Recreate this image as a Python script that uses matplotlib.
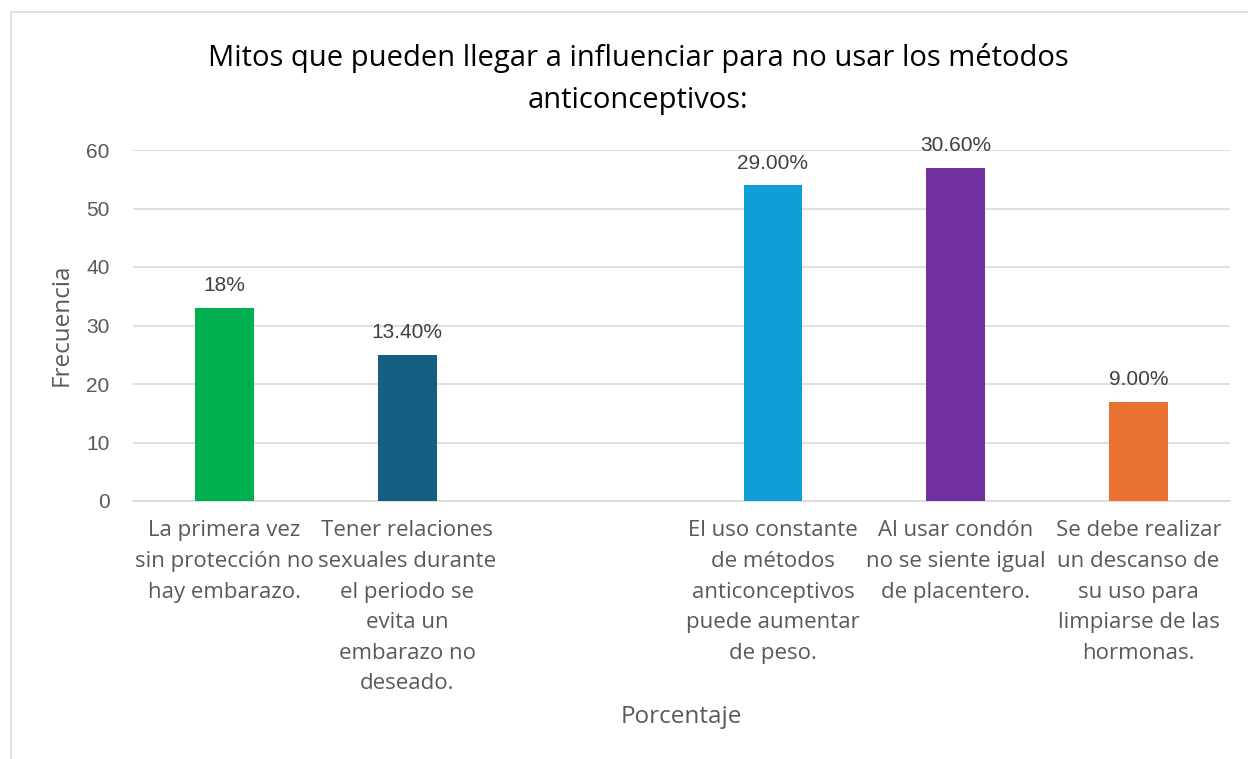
import matplotlib.pyplot as plt
from matplotlib.patches import Rectangle

plt.rcParams['font.family'] = ['Open Sans', 'DejaVu Sans']
num_font = ['Liberation Sans', 'DejaVu Sans']

# datos
categorias = [
    "La primera vez\nsin protección no\nhay embarazo.",
    "Tener relaciones\nsexuales durante\nel periodo se\nevita un\nembarazo no\ndeseado.",
    "",
    "El uso constante\nde métodos\nanticonceptivos\npuede aumentar\nde peso.",
    "Al usar condón\nno se siente igual\nde placentero.",
    "Se debe realizar\nun descanso de\nsu uso para\nlimpiarse de las\nhormonas.",
]
frecuencia = [33, 25, None, 54, 57, 17]
etiquetas = ["18%", "13.40%", "", "29.00%", "30.60%", "9.00%"]
colores = ["#00B050", "#156082", "#FFFFFF", "#0F9ED5", "#7030A0", "#E97132"]

fig = plt.figure(figsize=(12.48, 7.59), dpi=100)
ax = fig.add_axes([133/1248, 1 - 501/759, (1230 - 133)/1248, (501 - 150)/759])

# borde del área del gráfico
fig.patches.append(Rectangle((11/1248, -0.1), 1.2, 1 - 12/759 + 0.1,
                             transform=fig.transFigure, fill=False,
                             edgecolor="#D9D9D9", linewidth=1.2))

xs = list(range(len(categorias)))
for x, v, c, e in zip(xs, frecuencia, colores, etiquetas):
    if v is None:
        continue
    ax.bar(x, v, width=0.32, color=c, zorder=3)
    ax.annotate(e, (x, v), xytext=(0, 9), textcoords="offset points",
                ha="center", va="bottom", fontsize=15, color="#404040",
                family=num_font)

ax.set_xlim(-0.5, 5.5)
ax.set_ylim(0, 60)
ax.set_yticks(range(0, 61, 10))
ax.set_xticks(xs)
ax.set_xticklabels(categorias, fontsize=16, color="#595959", linespacing=1.6)
ax.tick_params(axis="y", labelsize=15, labelcolor="#595959", length=0, pad=17)
for t in ax.get_yticklabels():
    t.set_family(num_font)
ax.tick_params(axis="x", length=0, pad=14)
ax.grid(axis="y", color="#D9D9D9", linewidth=1.2, zorder=0)
for s in ["top", "right", "left"]:
    ax.spines[s].set_visible(False)
ax.spines["bottom"].set_color("#D9D9D9")
ax.spines["bottom"].set_linewidth(1.2)

fig.text(638/1248, 1 - 79/759,
         "Mitos que pueden llegar a influenciar para no usar los métodos\nanticonceptivos:",
         ha="center", va="center", fontsize=21, color="#000000", linespacing=1.55)
fig.text(62/1248, 1 - 325/759, "Frecuencia", rotation=90, ha="center", va="center",
         fontsize=17.5, color="#595959")
fig.text(681/1248, 1 - 717/759, "Porcentaje", ha="center", va="center",
         fontsize=17.5, color="#595959")

fig.savefig("out.png", dpi=100)
